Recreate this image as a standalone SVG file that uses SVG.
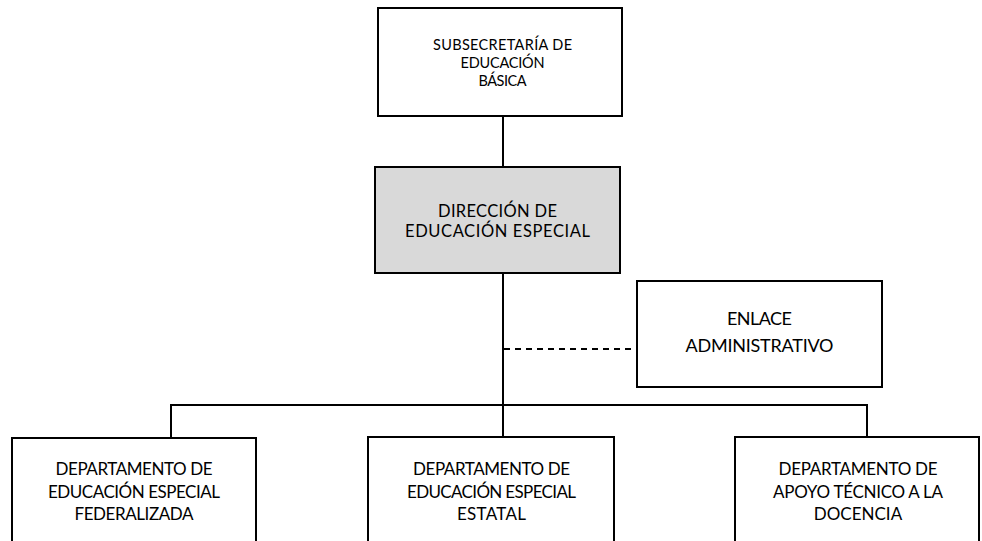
<svg xmlns="http://www.w3.org/2000/svg" width="982" height="541" viewBox="0 0 982 541">
<style>
.box{fill:#fff;stroke:#000;stroke-width:2}
.gray{fill:#d9d9d9}
.t{font-family:Lato,"Open Sans","DejaVu Sans",sans-serif;fill:#000;text-anchor:middle}
.a{font-size:14.5px}
.b{font-size:16.5px}
.c{font-size:18px}
.d{font-size:17px}
.ln{stroke:#000;stroke-width:2;fill:none}
.dash{stroke-dasharray:6,5}
</style>
<rect width="982" height="541" fill="#fff"/>
<g id="connectors">
<line class="ln" x1="503" y1="116" x2="503" y2="167"/>
<line class="ln" x1="503" y1="273" x2="503" y2="437"/>
<line class="ln dash" x1="504" y1="349" x2="637" y2="349"/>
<line class="ln" x1="171" y1="405" x2="867" y2="405"/>
<line class="ln" x1="171" y1="404" x2="171" y2="438"/>
<line class="ln" x1="867" y1="404" x2="867" y2="437"/>
</g>
<g id="subsecretaria">
<rect class="box" x="378" y="8" width="244" height="108"/>
<text class="t a" x="502.5" y="50" textLength="139">SUBSECRETARÍA DE</text>
<text class="t a" x="502.5" y="68" textLength="84">EDUCACIÓN</text>
<text class="t a" x="502.5" y="86" textLength="48">BÁSICA</text>
</g>
<g id="direccion">
<rect class="box gray" x="375" y="167" width="245" height="106"/>
<text class="t b" x="497.5" y="217" textLength="119">DIRECCIÓN DE</text>
<text class="t b" x="497.5" y="237" textLength="185">EDUCACIÓN ESPECIAL</text>
</g>
<g id="enlace">
<rect class="box" x="637" y="281" width="245" height="106"/>
<text class="t c" x="759.5" y="325" textLength="65">ENLACE</text>
<text class="t c" x="759.5" y="352" textLength="148">ADMINISTRATIVO</text>
</g>
<g id="dep-federalizada">
<rect class="box" x="12" y="438" width="244" height="120"/>
<text class="t d" x="134" y="475" textLength="157">DEPARTAMENTO DE</text>
<text class="t d" x="134" y="498" textLength="172">EDUCACIÓN ESPECIAL</text>
<text class="t d" x="134" y="520" textLength="119">FEDERALIZADA</text>
</g>
<g id="dep-estatal">
<rect class="box" x="368" y="437" width="246" height="120"/>
<text class="t d" x="491.5" y="475" textLength="157">DEPARTAMENTO DE</text>
<text class="t d" x="491.5" y="498" textLength="169">EDUCACIÓN ESPECIAL</text>
<text class="t d" x="491.5" y="520" textLength="69">ESTATAL</text>
</g>
<g id="dep-apoyo">
<rect class="box" x="735" y="437" width="244" height="120"/>
<text class="t d" x="858" y="475" textLength="159">DEPARTAMENTO DE</text>
<text class="t d" x="858" y="498" textLength="170">APOYO TÉCNICO A LA</text>
<text class="t d" x="858" y="520">DOCENCIA</text>
</g>
</svg>
